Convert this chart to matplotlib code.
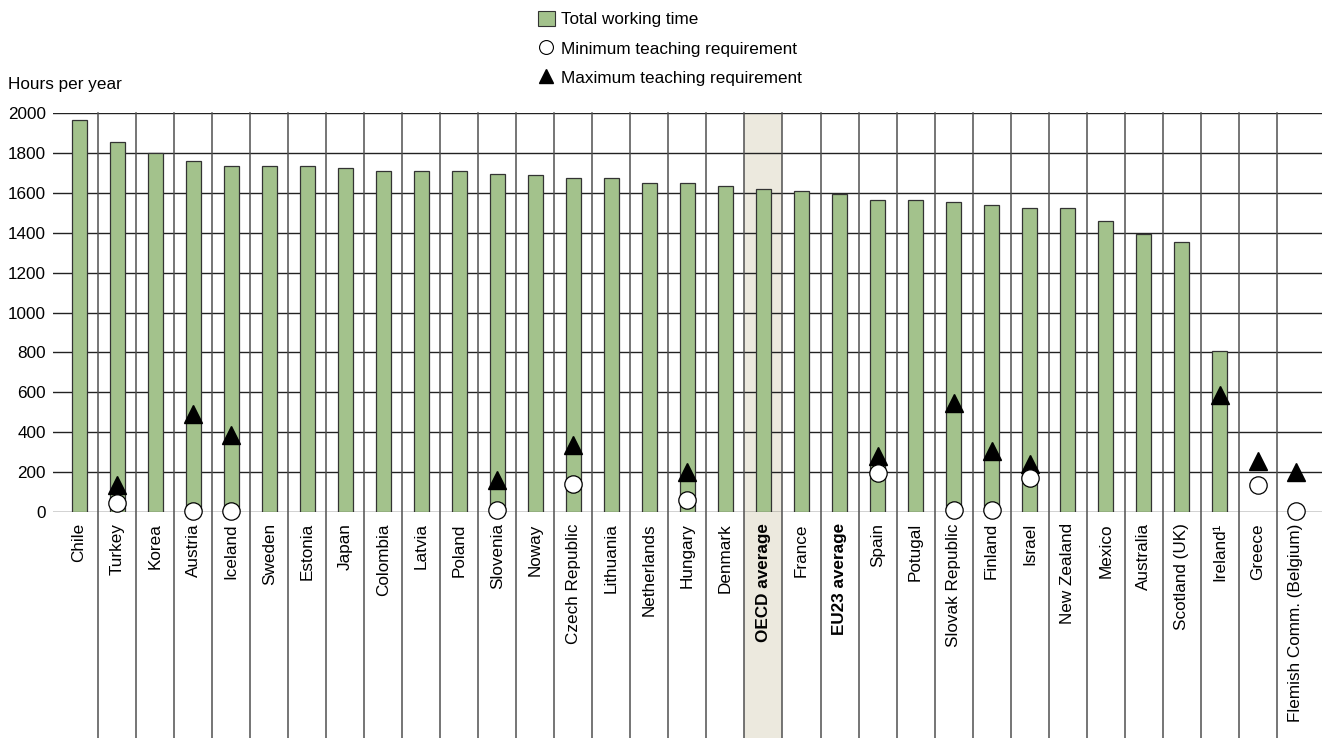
import matplotlib
matplotlib.use('Agg')
import matplotlib.pyplot as plt
import matplotlib.transforms as mtransforms
from matplotlib.lines import Line2D
from matplotlib.patches import Patch, Rectangle
import numpy as np

plt.rcParams['font.family'] = ['Liberation Sans', 'DejaVu Sans']

# Data
countries = ["Chile", "Turkey", "Korea", "Austria", "Iceland", "Sweden", "Estonia", "Japan",
             "Colombia", "Latvia", "Poland", "Slovenia", "Noway", "Czech Republic", "Lithuania",
             "Netherlands", "Hungary", "Denmark", "OECD average", "France", "EU23 average",
             "Spain", "Potugal", "Slovak Republic", "Finland", "Israel", "New Zealand", "Mexico",
             "Australia", "Scotland (UK)", "Ireland¹", "Greece", "Flemish Comm. (Belgium)"]
total_time = [1963, 1855, 1801, 1761, 1736, 1736, 1736, 1722, 1710, 1710, 1710, 1696, 1688,
              1672, 1672, 1648, 1648, 1632, 1620, 1607, 1593, 1565, 1565, 1552, 1540, 1524,
              1524, 1460, 1392, 1355, 805, np.nan, np.nan]
min_teaching = [np.nan, 45, np.nan, 5, 5, np.nan, np.nan, np.nan, np.nan, np.nan, np.nan, 8,
                np.nan, 140, np.nan, np.nan, 60, np.nan, np.nan, np.nan, np.nan, 195, np.nan,
                8, 8, 170, np.nan, np.nan, np.nan, np.nan, np.nan, 137, 5]
max_teaching = [np.nan, 133, np.nan, 491, 386, np.nan, np.nan, np.nan, np.nan, np.nan, np.nan,
                159, np.nan, 334, np.nan, np.nan, 200, np.nan, np.nan, np.nan, np.nan, 281,
                np.nan, 546, 306, 240, np.nan, np.nan, np.nan, np.nan, 586, 254, 200]
bold_labels = ["OECD average", "EU23 average"]
highlight = "OECD average"

bar_colour = '#a3c28c'
fs = 12.3

fig = plt.figure(figsize=(13.22, 7.38), dpi=100)
ax = fig.add_axes([0.040, 0.3062, 0.960, 0.5407])
x = np.arange(len(countries))

ax.set_xlim(-0.69, len(countries) - 0.31)
ax.set_ylim(0, 2000)

# Horizontal grid
for yv in range(0, 2001, 200):
    ax.axhline(yv, color='#222222', lw=1.0, zorder=1)

# Column separators running down through the label area
trans = mtransforms.blended_transform_factory(ax.transData, ax.transAxes)
bottom = -0.3062 / 0.5407
hi = countries.index(highlight)
ax.add_patch(Rectangle((hi - 0.5, bottom), 1, 1 - bottom, transform=trans,
                       facecolor='#ece9de', edgecolor='none', zorder=0, clip_on=False))
for xs in x[:-1] + 0.5:
    ax.plot([xs, xs], [bottom, 1], transform=trans, color='#505050', lw=1.1,
            zorder=1, clip_on=False)

ax.bar(x, total_time, width=0.39, color=bar_colour, edgecolor='#333333', lw=0.9, zorder=2)
ax.plot(x, max_teaching, ls='none', marker='^', ms=13, color='black', zorder=3, clip_on=False)
ax.plot(x, min_teaching, ls='none', marker='o', ms=12.5, markerfacecolor='white',
        markeredgecolor='black', markeredgewidth=0.9, zorder=4, clip_on=False)

for s in ax.spines.values():
    s.set_visible(False)
ax.set_yticks(range(0, 2001, 200))
ax.tick_params(axis='y', length=0, pad=5, labelsize=fs)
ax.set_xticks(x)
ax.set_xticklabels(countries, rotation=90, fontsize=fs, va='top', ha='center')
ax.tick_params(axis='x', length=0, pad=8)
for lab in ax.get_xticklabels():
    if lab.get_text() in bold_labels:
        lab.set_fontweight('bold')

fig.text(8 / 1322, 1 - 85 / 738, "Hours per year", fontsize=fs, va='center', ha='left')

handles = [Patch(facecolor=bar_colour, edgecolor='#333333', lw=0.8),
           Line2D([], [], ls='none', marker='o', ms=10, markerfacecolor='white',
                  markeredgecolor='black', markeredgewidth=0.8),
           Line2D([], [], ls='none', marker='^', ms=10, color='black')]
fig.legend(handles, ["Total working time", "Minimum teaching requirement",
                     "Maximum teaching requirement"],
           loc='upper left', bbox_to_anchor=(526 / 1322, 1 + 1 / 738), frameon=False,
           fontsize=fs, handlelength=1.0, handleheight=1.0, handletextpad=0.35,
           labelspacing=0.74, borderpad=0.2)

plt.savefig('out.png', dpi=100)
plt.close()
